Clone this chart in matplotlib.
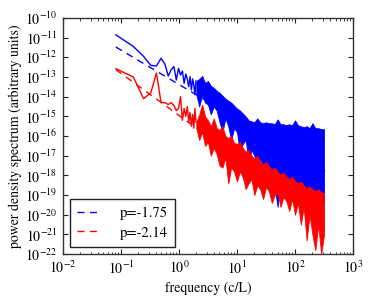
import numpy as np
import matplotlib
matplotlib.use("Agg")
import matplotlib.pyplot as plt
from matplotlib.ticker import LogLocator, NullLocator, FixedLocator

plt.rcParams['font.family'] = ['STIXGeneral', 'DejaVu Serif']
plt.rcParams['mathtext.fontset'] = 'stix'

# frequency step of the spectrum (c/L)
df = 0.082

# low-frequency part, one value per frequency bin (log10 of power)
blue_low = [-10.86, -11.45, -11.95, -12.41, -12.44, -12.05, -12.35, -12.95,
            -12.62, -12.47, -13.15, -12.56, -12.90, -12.70, -13.32, -12.85,
            -13.10, -13.49, -12.98, -13.66, -13.10, -13.40, -13.90, -13.20]
red_low = [-12.58, -13.00, -14.10, -13.80, -12.80, -14.30, -14.30, -14.40,
           -14.30, -14.45, -14.70, -14.60, -14.00, -15.20, -14.60, -15.00,
           -14.50, -15.30, -14.80, -15.50, -14.90, -15.60, -14.60, -15.30]

# dense high-frequency part: envelope of the noisy spectrum (log10 f, log10 P)
band_logf = [0.30, 0.35, 0.40, 0.45, 0.50, 0.55, 0.60, 0.65, 0.70, 0.75,
             0.80, 0.85, 0.90, 0.95, 1.00, 1.05, 1.10, 1.15, 1.20, 1.25,
             1.30, 1.35, 1.40, 1.45, 1.50, 1.55, 1.60, 1.65, 1.70, 1.75,
             1.80, 1.85, 1.90, 1.95, 2.00, 2.05, 2.10, 2.15, 2.20, 2.25,
             2.30, 2.35, 2.40, 2.45, 2.50]
blue_hi = [-13.20, -13.10, -12.95, -13.30, -13.20, -13.45, -13.55, -13.70, -13.80, -13.95,
           -14.10, -14.20, -14.30, -14.45, -14.60, -14.70, -14.85, -15.00, -15.20, -15.25,
           -15.30, -15.10, -15.30, -15.35, -15.30, -15.35, -15.35, -15.40, -15.15, -15.40,
           -15.40, -15.45, -15.40, -15.45, -15.20, -15.45, -15.50, -15.55, -15.50, -15.60,
           -15.35, -15.60, -15.60, -15.65, -15.65]
blue_lo = [-13.90, -14.50, -13.90, -14.30, -14.40, -14.90, -14.50, -14.70, -15.30, -15.80,
           -15.10, -15.50, -16.20, -15.60, -15.80, -16.80, -16.40, -16.20, -17.30, -16.70,
           -17.00, -17.80, -17.10, -17.60, -18.20, -17.50, -17.80, -18.60, -19.60, -18.00,
           -18.50, -19.00, -18.30, -18.60, -19.30, -18.70, -19.10, -19.50, -18.90, -19.10,
           -19.60, -19.20, -19.50, -19.80, -19.40]
red_hi = [-15.30, -14.90, -14.40, -15.00, -15.20, -15.50, -15.10, -15.60, -15.70, -15.50,
          -16.00, -16.10, -16.00, -16.35, -16.40, -16.30, -16.60, -16.80, -16.70, -17.00,
          -17.15, -17.00, -17.30, -17.45, -17.30, -17.55, -17.70, -17.60, -17.80, -17.95,
          -17.85, -18.05, -18.20, -18.05, -18.30, -18.40, -18.30, -18.50, -18.65, -18.55,
          -18.70, -18.80, -18.70, -18.85, -18.90]
red_lo = [-15.60, -16.20, -15.80, -16.50, -16.30, -17.00, -16.60, -16.90, -17.50, -17.60,
          -17.10, -18.40, -17.60, -17.80, -18.30, -17.80, -18.10, -18.70, -18.40, -18.20,
          -19.00, -18.50, -18.70, -19.20, -18.60, -18.80, -19.40, -19.00, -18.90, -19.60,
          -19.10, -19.30, -19.80, -19.20, -20.00, -19.40, -20.50, -19.60, -21.30, -20.00,
          -21.00, -21.80, -20.50, -22.00, -21.00]

# power-law fits: exponent and log10 amplitude at f = 1
fit_p = [-1.75, -2.14]
fit_logamp = [-13.38, -14.95]
fit_range = [0.082, 330.0]

fig = plt.figure(figsize=(3.74, 2.99), dpi=100)
ax = fig.add_axes([0.168, 0.150, 0.776, 0.790])

f_low = df * np.arange(1, len(blue_low) + 1)
band_f = 10 ** np.array(band_logf)

ax.plot(f_low, 10 ** np.array(blue_low), color='b', lw=1.0, zorder=3)
ax.fill_between(band_f, 10 ** np.array(blue_lo), 10 ** np.array(blue_hi),
                color='b', lw=0.6, zorder=3)
ax.plot(f_low, 10 ** np.array(red_low), color='r', lw=1.0, zorder=4)
ax.fill_between(band_f, 10 ** np.array(red_lo), 10 ** np.array(red_hi),
                color='r', lw=0.6, zorder=4)

colors = ['b', 'r']
fr = np.array(fit_range)
for p, a, c in zip(fit_p, fit_logamp, colors):
    ax.plot(fr, 10 ** a * fr ** p, color=c, lw=1.0, ls=(0, (5, 4)),
            zorder=2, label='p=%.2f' % p)

ax.set_xscale('log')
ax.set_yscale('log')
ax.set_xlim(1e-2, 1e3)
ax.set_ylim(1e-22, 1e-10)
ax.yaxis.set_major_locator(FixedLocator([10.0 ** k for k in range(-22, -9)]))
ax.yaxis.set_minor_locator(NullLocator())
ax.xaxis.set_major_locator(LogLocator(base=10, numticks=10))
ax.xaxis.set_minor_locator(LogLocator(base=10, subs=np.arange(2, 10), numticks=10))

ax.tick_params(which='both', direction='in', top=True, right=True,
               labelsize=10, colors='#222222', labelcolor='black')
ax.tick_params(which='major', length=3.5, width=0.8, pad=4)
ax.tick_params(which='minor', length=1.8, width=0.6)
for s in ax.spines.values():
    s.set_linewidth(1.0)
    s.set_color('#333333')

ax.set_xlabel('frequency (c/L)', fontsize=10, labelpad=3)
ax.set_ylabel('power density spectrum (arbitrary units)', fontsize=10, labelpad=2)

leg = ax.legend(loc='lower left', fontsize=10.5, fancybox=False, framealpha=1,
                edgecolor='#222222', handlelength=1.6, borderpad=0.5,
                labelspacing=0.45, handletextpad=1.3, borderaxespad=0.5)
leg.get_frame().set_linewidth(1.0)

fig.savefig('out.png', dpi=100)
